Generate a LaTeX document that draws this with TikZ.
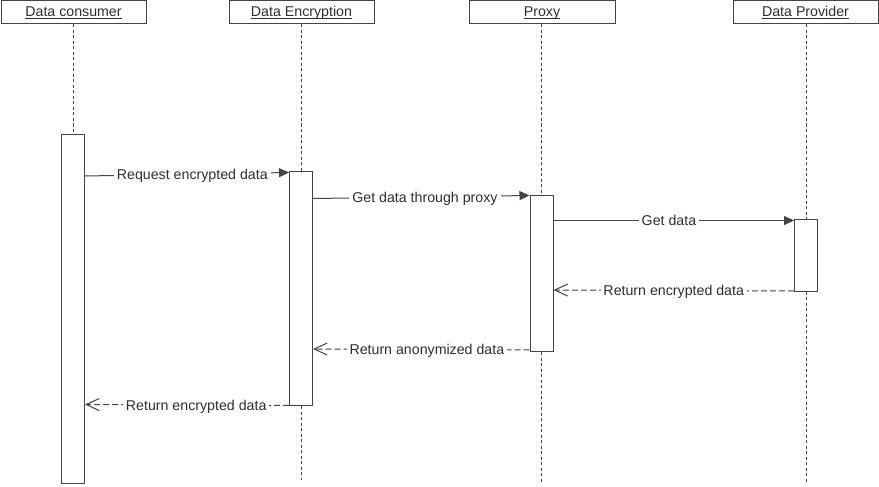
\documentclass[tikz,border=0pt]{standalone}
\usepackage{fontspec}
\setmainfont{Liberation Sans}
\usetikzlibrary{arrows.meta}
\definecolor{lc}{HTML}{444444}
\definecolor{tc}{HTML}{2E2E2E}
\newcommand\ulhead[1]{\setbox0\hbox{#1}\rlap{\usebox0}\raisebox{-2.6pt}{\color{tc}\rule{\wd0}{0.9pt}}}
\begin{document}
\begin{tikzpicture}[x=1pt,y=-1pt,
  font=\fontsize{14.2}{17}\selectfont,
  head/.style={draw=lc, line width=1pt, minimum width=145pt, minimum height=23pt, inner sep=0pt, text=tc, text height=10.2pt, text depth=3pt},
  act/.style={draw=lc, line width=1pt, fill=white, minimum width=23pt, inner sep=0pt},
  life/.style={draw=lc, line width=1pt, dash pattern=on 3pt off 2.5pt},
  call/.style={draw=lc, line width=1pt, -{Triangle[length=10pt,width=9pt]}},
  ret/.style={draw=lc, line width=1pt, dash pattern=on 6pt off 3pt, -{Straight Barb[length=13pt,width=12pt]}},
  lbl/.style={fill=white, text=tc, inner xsep=3pt, inner ysep=1pt, text height=10.2pt, text depth=0pt}
]
\useasboundingbox[fill=white] (0,0) rectangle (879,487);

% headers
\node[head] (hC) at (73.5,12.5) {\ulhead{Data consumer}};
\node[head] (hE) at (301.5,12.5) {\ulhead{Data Encryption}};
\node[head, minimum width=146pt] (hP) at (542,12.5) {\ulhead{Proxy}};
\node[head] (hD) at (805.5,12.5) {\ulhead{Data Provider}};

% activation boxes
\node[act, minimum height=349pt] (aC) at (73,308.5) {};
\node[act, minimum height=234.5pt] (aE) at (301,288.25) {};
\node[act, minimum height=156.5pt] (aP) at (541.5,273.25) {};
\node[act, minimum height=72pt] (aD) at (806,255) {};

% lifeline ends
\coordinate (eE) at (301,480);
\coordinate (eP) at (541.5,483);
\coordinate (eD) at (806,483);

% lifelines
\draw[life] (aC.north |- hC.south) -- (aC.north);
\draw[life] (aE.north |- hE.south) -- (aE.north);
\draw[life] (aP.north |- hP.south) -- (aP.north);
\draw[life] (aD.north |- hD.south) -- (aD.north);
\draw[life] (aE.south) -- (eE);
\draw[life] (aP.south) -- (eP);
\draw[life] (aD.south) -- (eD);

% messages
\draw[call] ([yshift=-42.5pt]aC.north east) -- node[lbl,pos=0.526]{Request encrypted data} ([yshift=-2pt]aE.north west);
\draw[call] ([yshift=-28pt]aE.north east) -- node[lbl,pos=0.517]{Get data through proxy} ([yshift=-1pt]aP.north west);
\draw[call] ([yshift=-26pt]aP.north east) -- node[lbl,pos=0.48]{Get data} ([yshift=-2pt]aD.north west);
\draw[ret] ([yshift=0.5pt]aD.south west) -- node[lbl,pos=0.5]{Return encrypted data} ([yshift=-95.5pt]aP.north east);
\draw[ret] ([yshift=2pt]aP.south west) -- node[lbl,pos=0.474]{Return anonymized data} ([yshift=-178.5pt]aE.north east);
\draw[ret] ([yshift=0.5pt]aE.south west) -- node[lbl,pos=0.455]{Return encrypted data} ([yshift=-271pt]aC.north east);
\end{tikzpicture}
\end{document}
